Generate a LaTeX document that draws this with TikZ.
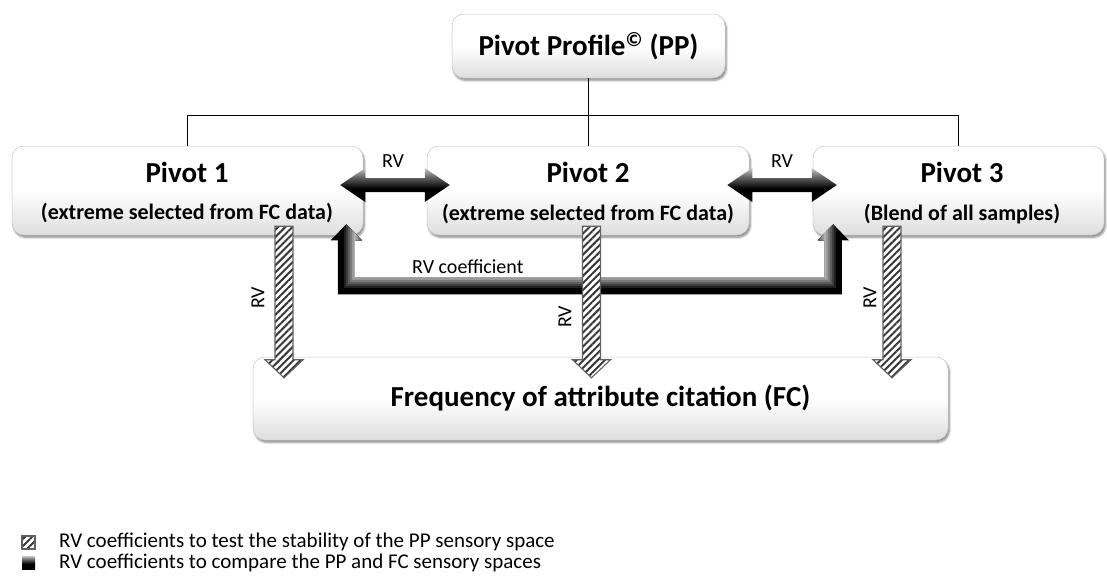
\documentclass[tikz,border=0pt]{standalone}
\usepackage{fontspec}
\setmainfont{Carlito}
\usetikzlibrary{calc,patterns.meta,shadows.blur}

% grey-to-black ramp used for the solid arrows and the legend swatch
\pgfdeclareverticalshading{darkramp}{100bp}{color(0bp)=(black); color(25bp)=(black); color(45bp)=(black); color(62bp)=(black!60); color(75bp)=(black!22); color(100bp)=(black!22)}

% horizontal double-headed arrow between two tips
\newcommand\twoway[2]{%
  \path[dbl] let \p1=(#1), \p2=(#2) in
    (\x1,\y1) -- (\x1+25pt,\y1+17pt) -- (\x1+25pt,\y1+7pt) -- (\x2-25pt,\y1+7pt)
    -- (\x2-25pt,\y1+17pt) -- (\x2,\y1) -- (\x2-25pt,\y1-17pt) -- (\x2-25pt,\y1-7pt)
    -- (\x1+25pt,\y1-7pt) -- (\x1+25pt,\y1-17pt) -- cycle;}

% hatched downward arrow from a start point to a tip
\newcommand\hatchdown[2]{%
  \path[hatch] let \p1=(#1), \p2=(#2) in
    (\x1-9pt,\y1) -- (\x1-9pt,\y2+18pt) -- (\x1-19pt,\y2+18pt) -- (\x1,\y2)
    -- (\x1+19pt,\y2+18pt) -- (\x1+9pt,\y2+18pt) -- (\x1+9pt,\y1) -- cycle;}

\begin{document}
\begin{tikzpicture}[x=1pt,y=-1pt,
  box/.style={draw=black!22, line width=0.5pt, rounded corners=12pt,
    top color=white, bottom color=black!13, middle color=white,
    blur shadow={shadow xshift=1.5pt, shadow yshift=-2.5pt, shadow opacity=45, shadow blur steps=6}},
  ttl/.style={font=\bfseries\fontsize{29}{32}\selectfont, inner sep=0pt},
  sub/.style={font=\bfseries\fontsize{22}{25}\selectfont, inner sep=0pt},
  lab/.style={font=\fontsize{20}{24}\selectfont, inner sep=0pt},
  conn/.style={line width=1.2pt},
  dbl/.style={shading=darkramp},
  hatch/.style={preaction={fill=white}, draw=black!62, line width=1.1pt,
    pattern={Lines[angle=45,distance=5pt,line width=2pt]}, pattern color=black!78}
]
\useasboundingbox (0,0) rectangle (1107,576);

% boxes
\node[box, minimum width=273pt, minimum height=64pt, ttl] (pp) at (588.5,46) {Pivot Profile\textsuperscript{©} (PP)};
\node[box, minimum width=351pt, minimum height=89pt] (p1) at (187.5,190.5) {};
\node[box, minimum width=322pt, minimum height=89pt] (p2) at (588,190.5) {};
\node[box, minimum width=291pt, minimum height=89pt] (p3) at (958.5,190.5) {};
\node[box, minimum width=695pt, minimum height=83pt, ttl] (fc) at (600.5,398.5) {Frequency of attribute citation (FC)};

% box texts
\node[ttl] (p1t) at (187,172) {Pivot 1};
\node[sub] (p1s) at (187,213) {(extreme selected from FC data)};
\node[ttl] (p2t) at (588,172) {Pivot 2};
\node[sub] (p2s) at (588,214) {(extreme selected from FC data)};
\node[ttl] (p3t) at (962,172) {Pivot 3};
\node[sub] (p3s) at (962,214) {(Blend of all samples)};

% hierarchy lines
\coordinate (bus) at ($(pp.south)+(0,37)$);
\draw[conn] (pp.south) -- (pp.south |- p2.north);
\draw[conn] (bus) -| (p1.north);
\draw[conn] (bus) -| (p3.north);

% RV double arrows between neighbouring pivots
\coordinate (d1a) at ([xshift=-23pt,yshift=5.5pt]p1.east);
\coordinate (d1b) at ([xshift=23pt,yshift=5.5pt]p2.west);
\coordinate (d2a) at ([xshift=-22pt,yshift=5.5pt]p2.east);
\coordinate (d2b) at ([xshift=24pt,yshift=5.5pt]p3.west);
\twoway{d1a}{d1b}
\twoway{d2a}{d2b}
\node[lab] (rvA) at (393,161) {RV};
\node[lab] (rvB) at (782,161) {RV};

% RV coefficient bracket between pivot 1 and pivot 3
\coordinate (k1) at ([xshift=-17pt,yshift=11pt]p1.south east);
\coordinate (k2) at ([xshift=20.5pt,yshift=11pt]p3.south west);
\begin{scope}
  \clip let \p1=(k1), \p2=(k2) in
    (\x1-15.5pt,\y1-16pt) -- (\x1,\y1) -- (\x1+15.5pt,\y1-16pt) -- (\x1+8.5pt,\y1-16pt)
    -- (\x1+8.5pt,\y1-53pt) -- (\x2-8.5pt,\y1-53pt) -- (\x2-8.5pt,\y1-16pt)
    -- (\x2-15.5pt,\y1-16pt) -- (\x2,\y1) -- (\x2+15.5pt,\y1-16pt) -- (\x2+8.5pt,\y1-16pt)
    -- (\x2+8.5pt,\y1-70pt) -- (\x1-8.5pt,\y1-70pt) -- (\x1-8.5pt,\y1-16pt) -- cycle;
  \fill[black] (0,0) rectangle (1107,576);
  \foreach \w/\c in {22/88,18/76,14/64,10/52,6/40,2/30} {
    \draw[line width=\w pt, black!\c] let \p1=(k1), \p2=(k2) in
      (\x1+8.5pt,\y1+8pt) -- (\x1+8.5pt,\y1-53pt) -- (\x2-8.5pt,\y1-53pt) -- (\x2-8.5pt,\y1+8pt);
  }
\end{scope}
\node[lab, anchor=west] (rvc) at (412,267) {RV coefficient};

% hatched RV arrows from each pivot to FC
\coordinate (h1a) at ([xshift=96.5pt,yshift=9pt]p1.south);
\coordinate (h2a) at ([xshift=3.5pt,yshift=9pt]p2.south);
\coordinate (h3a) at ([xshift=-66.5pt,yshift=9pt]p3.south);
\coordinate (h1b) at ([yshift=-21pt]h1a |- fc.north);
\coordinate (h2b) at ([yshift=-21pt]h2a |- fc.north);
\coordinate (h3b) at ([yshift=-21pt]h3a |- fc.north);
\hatchdown{h1a}{h1b}
\hatchdown{h2a}{h2b}
\hatchdown{h3a}{h3b}
\node[lab, rotate=90] (rv1) at (258,298) {RV};
\node[lab, rotate=90] (rv2) at (565,317) {RV};
\node[lab, rotate=90] (rv3) at (870,298) {RV};

% legend
\path[hatch] (22,536) rectangle (35,549);
\path[dbl] (22,556) rectangle (35,569);
\node[lab, anchor=west, font=\fontsize{21}{24}\selectfont] (leg1) at (59,542) {RV coefficients to test the stability of the PP sensory space};
\node[lab, anchor=west, font=\fontsize{21}{24}\selectfont] (leg2) at (59,563) {RV coefficients to compare the PP and FC sensory spaces};
\end{tikzpicture}
\end{document}
